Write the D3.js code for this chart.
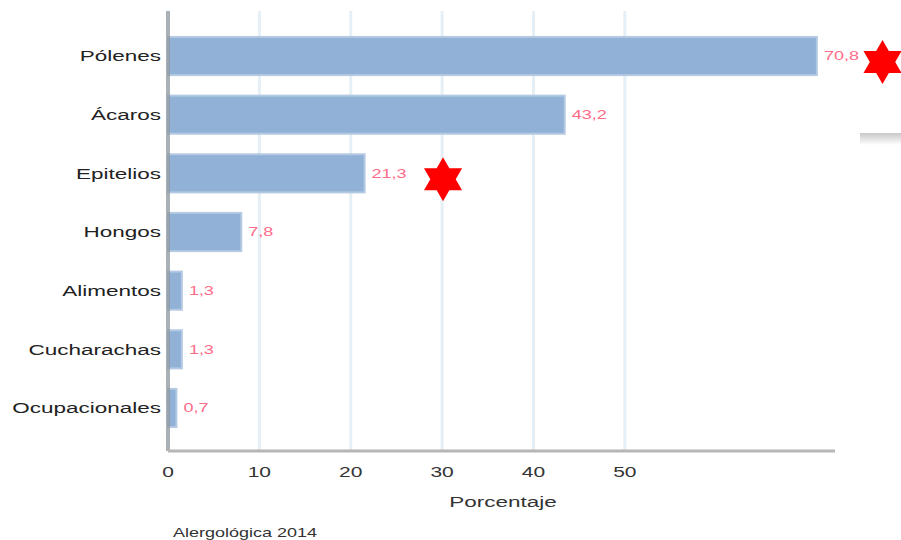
<!DOCTYPE html>
<html>
<head>
<meta charset="utf-8">
<script src="https://cdn.jsdelivr.net/npm/d3@7"></script>
<style>
  body { margin: 0; background: #fff; }
  svg { font-family: "Liberation Sans", Arial, sans-serif; }
</style>
</head>
<body>
<svg id="chart" width="901" height="540"></svg>
<script>
var categories = ["Pólenes", "Ácaros", "Epitelios", "Hongos", "Alimentos", "Cucharachas", "Ocupacionales"];
var values = [70.8, 43.2, 21.3, 7.8, 1.3, 1.3, 0.7];
var tickValues = [0, 10, 20, 30, 40, 50];
var stars = [{cat: "Pólenes", at: 78.2}, {cat: "Epitelios", at: 30.1}];

var svg = d3.select("#chart"),
    margin = {top: 11, left: 168, right: 66, bottom: 89},
    width = +svg.attr("width") - margin.left - margin.right,
    height = +svg.attr("height") - margin.top - margin.bottom,
    stretch = 1.5; // the original picture is wide-stretched

var x = d3.scaleLinear()
    .domain([0, 73])
    .range([margin.left, margin.left + width]);

var y = d3.scaleBand()
    .domain(categories)
    .range([26.7, 437.3])
    .paddingInner(0.35)
    .paddingOuter(0.175);

var fmt = function(v) { return d3.format(".1f")(v).replace(".", ","); };

function place(px, py) {
  return "translate(" + px + "," + py + ") scale(" + stretch + ",1)";
}

// grid
svg.append("g")
    .selectAll("line")
    .data(tickValues.slice(1))
  .enter().append("line")
    .attr("x1", function(d) { return x(d); })
    .attr("x2", function(d) { return x(d); })
    .attr("y1", margin.top)
    .attr("y2", margin.top + height)
    .attr("stroke", "#e5eff5")
    .attr("stroke-width", 3);

// bars
svg.append("g")
    .selectAll("rect")
    .data(values)
  .enter().append("rect")
    .attr("x", x(0))
    .attr("y", function(d, i) { return y(categories[i]); })
    .attr("width", function(d) { return x(d) - x(0) + 2; })
    .attr("height", y.bandwidth())
    .attr("fill", "#91b1d6")
    .attr("stroke", "#b4cae3")
    .attr("stroke-width", 2);

// value labels
svg.append("g")
    .selectAll("text")
    .data(values)
  .enter().append("text")
    .attr("transform", function(d, i) { return place(x(d) + 9, y(categories[i]) + y.bandwidth() / 2); })
    .attr("dy", "0.35em")
    .attr("font-size", 12)
    .attr("fill", "#ff6a88")
    .text(fmt);

// axes lines
svg.append("line")
    .attr("x1", x(0)).attr("x2", x(0))
    .attr("y1", margin.top).attr("y2", margin.top + height)
    .attr("stroke", "#8d979d")
    .attr("stroke-opacity", 0.75)
    .attr("stroke-width", 4);

svg.append("line")
    .attr("x1", x(0)).attr("x2", margin.left + width)
    .attr("y1", margin.top + height).attr("y2", margin.top + height)
    .attr("stroke", "#b6b6b6")
    .attr("stroke-width", 3);

// x tick labels
svg.append("g")
    .selectAll("text")
    .data(tickValues)
  .enter().append("text")
    .attr("transform", function(d) { return place(x(d), 477); })
    .attr("text-anchor", "middle")
    .attr("font-size", 14)
    .attr("fill", "#333")
    .text(function(d) { return d; });

// category labels
svg.append("g")
    .selectAll("text")
    .data(categories)
  .enter().append("text")
    .attr("transform", function(d) { return place(161, y(d) + y.bandwidth() / 2); })
    .attr("dy", "0.35em")
    .attr("text-anchor", "end")
    .attr("font-size", 15)
    .attr("fill", "#222")
    .text(function(d) { return d; });

svg.append("text")
    .attr("transform", place(503, 507))
    .attr("text-anchor", "middle")
    .attr("font-size", 15)
    .attr("fill", "#333")
    .text("Porcentaje");

svg.append("text")
    .attr("transform", place(173, 537))
    .attr("font-size", 12)
    .attr("fill", "#333")
    .text("Alergológica 2014");

// stars
function hexagram(r) {
  var pts = [];
  for (var k = 0; k < 12; k++) {
    var a = -Math.PI / 2 + k * Math.PI / 6;
    var rr = k % 2 === 0 ? r : r / Math.sqrt(3);
    pts.push([rr * Math.cos(a), rr * Math.sin(a)]);
  }
  return "M" + pts.join("L") + "Z";
}

svg.append("g")
    .selectAll("path")
    .data(stars)
  .enter().append("path")
    .attr("transform", function(d) {
      return "translate(" + x(d.at) + "," + (y(d.cat) + y.bandwidth() / 2 + 6) + ")";
    })
    .attr("d", hexagram(22))
    .attr("fill", "#ff0000");

// little grey fade at right
var grad = svg.append("defs").append("linearGradient")
    .attr("id", "fade").attr("x1", 0).attr("x2", 0).attr("y1", 0).attr("y2", 1);
grad.append("stop").attr("offset", 0).attr("stop-color", "#c8c8c8");
grad.append("stop").attr("offset", 1).attr("stop-color", "#ffffff");
svg.append("rect")
    .attr("x", 860).attr("y", 133)
    .attr("width", 41).attr("height", 12)
    .attr("fill", "url(#fade)");
</script>
</body>
</html>
